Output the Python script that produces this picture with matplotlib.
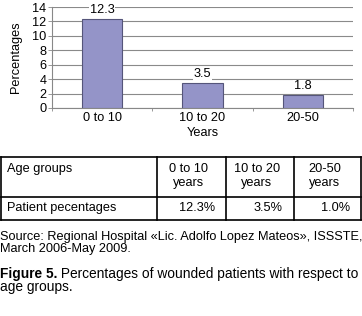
import matplotlib
matplotlib.use('Agg')
import matplotlib.pyplot as plt
import numpy as np

# data
groups = ['0 to 10', '10 to 20', '20-50']
percent = [12.3, 3.5, 1.8]
yticks = [0, 2, 4, 6, 8, 10, 12, 14]

tbl_head = ['Age groups', '0 to 10', '10 to 20', '20-50']
tbl_head2 = ['', 'years', 'years', 'years']
tbl_row = ['Patient pecentages', '12.3%', '3.5%', '1.0%']

source = ['Source: Regional Hospital «Lic. Adolfo Lopez Mateos», ISSSTE,',
          'March 2006-May 2009.']
cap_bold = 'Figure 5.'
cap_text = ' Percentages of wounded patients with respect to'
cap_text2 = 'age groups.'

plt.rcParams['font.family'] = ['Liberation Sans', 'DejaVu Sans']
fs = 9.2
fs_cap = 9.9
W, H = 362, 316
fig = plt.figure(figsize=(W / 100, H / 100), dpi=100)

def box(l, t, r, b):
    return [l / W, 1 - b / H, (r - l) / W, (b - t) / H]

# bar chart
ax = fig.add_axes(box(52, 7, 353, 108))
x = np.arange(len(groups))
ax.bar(x, percent, width=0.4, color='#9494c8', edgecolor='#55557a', linewidth=0.8, zorder=3)
ax.set_xlim(-0.5, len(groups) - 0.5)
ax.set_ylim(0, 14)
ax.set_yticks(yticks)
ax.tick_params(axis='y', labelsize=fs, length=3, width=0.6, color='#888888', pad=1)
ax.set_xticks(x)
ax.set_xticklabels(groups)
ax.set_xticks(np.arange(len(groups) + 1) - 0.5, minor=True)
ax.tick_params(axis='x', which='major', length=0, labelsize=fs, pad=3)
ax.tick_params(axis='x', which='minor', length=2, width=0.6, color='#888888')
ax.yaxis.grid(True, color='#8a8a8a', linewidth=0.8)
ax.set_axisbelow(True)
for s in ['top', 'right']:
    ax.spines[s].set_visible(False)
for s in ['left', 'bottom']:
    ax.spines[s].set_color('#888888')
    ax.spines[s].set_linewidth(0.8)
ax.set_ylabel('Percentages', fontsize=fs, labelpad=7)
ax.set_xlabel('Years', fontsize=fs, labelpad=2)
for xi, v in zip(x, percent):
    ax.annotate(f'{v}', (xi, v), xytext=(0, 2), textcoords='offset points',
                ha='center', va='bottom', fontsize=fs,
                bbox=dict(facecolor='white', edgecolor='none', pad=0.5))

# table
tax = fig.add_axes([0, 0, 1, 1])
tax.set_xlim(0, W)
tax.set_ylim(H, 0)
tax.axis('off')
cols = [1, 157, 226, 294, 361]
rows = [157, 197, 220]
for yy in rows:
    tax.plot([cols[0], cols[-1]], [yy, yy], color='black', lw=1.2)
for xx in cols:
    tax.plot([xx, xx], [rows[0], rows[-1]], color='black', lw=1.2)
tax.text(7, 169, tbl_head[0], fontsize=fs, va='center', ha='left')
for i in range(1, 4):
    cx = (cols[i] + cols[i + 1]) / 2 - 3
    tax.text(cx, 169, tbl_head[i], fontsize=fs, va='center', ha='center')
    tax.text(cx, 183, tbl_head2[i], fontsize=fs, va='center', ha='center')
tax.text(7, 208, tbl_row[0], fontsize=fs, va='center', ha='left')
for i, t in enumerate(tbl_row[1:]):
    tax.text(cols[i + 2] - 11, 208, t, fontsize=fs, va='center', ha='right')

# source and caption
tax.text(0, 237, source[0], fontsize=fs, va='center', ha='left')
tax.text(0, 249, source[1], fontsize=fs, va='center', ha='left')
tb = tax.text(0, 274, cap_bold, fontsize=fs_cap, fontweight='bold', va='center', ha='left')
fig.canvas.draw()
bb = tb.get_window_extent()
tax.text(bb.x1, 274, cap_text, fontsize=fs_cap, va='center', ha='left')
tax.text(0, 287, cap_text2, fontsize=fs_cap, va='center', ha='left')

fig.savefig('out.png', dpi=100)
